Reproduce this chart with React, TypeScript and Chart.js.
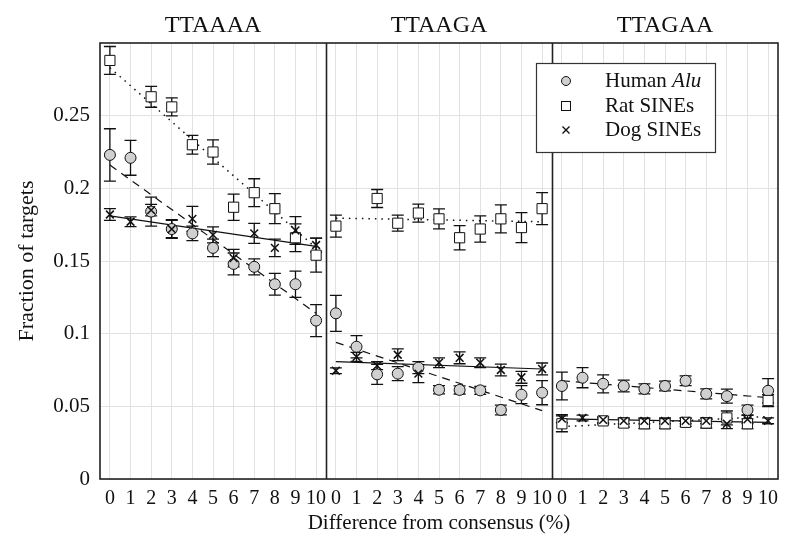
import React, { useEffect, useRef } from "react";
import { Chart, registerables } from "chart.js";

Chart.register(...registerables);

const panels = ["TTAAAA", "TTAAGA", "TTAGAA"];
const xTicks = [0, 1, 2, 3, 4, 5, 6, 7, 8, 9, 10];
const yTicks = [0, 0.05, 0.1, 0.15, 0.2, 0.25];
const seriesNames = ["Human Alu", "Rat SINEs", "Dog SINEs"];

// values per panel (11 points each, x = 0..10)
const humanValues = [
  [0.223, 0.221, 0.184, 0.172, 0.169, 0.159, 0.148, 0.146, 0.134, 0.134, 0.109],
  [0.114, 0.091, 0.072, 0.0725, 0.0766, 0.0614, 0.0613, 0.061, 0.0475, 0.058, 0.0594],
  [0.064, 0.0697, 0.0655, 0.064, 0.062, 0.064, 0.0676, 0.0586, 0.057, 0.0475, 0.0607],
];
const humanErrors = [
  [0.018, 0.012, 0.01, 0.0065, 0.005, 0.006, 0.0075, 0.0055, 0.0075, 0.009, 0.011],
  [0.0124, 0.0076, 0.0069, 0.0048, 0.0041, 0.0028, 0.0028, 0.0028, 0.0034, 0.0062, 0.0083],
  [0.0096, 0.0069, 0.0062, 0.0041, 0.0034, 0.0034, 0.0034, 0.0034, 0.0048, 0.0034, 0.0083],
];
const ratValues = [
  [0.288, null, 0.263, 0.256, 0.23, 0.225, 0.187, 0.197, 0.186, 0.166, 0.154],
  [0.174, null, 0.193, 0.176, 0.183, 0.179, 0.166, 0.172, 0.179, 0.173, 0.186],
  [0.038, null, 0.04, 0.0385, 0.038, 0.038, 0.039, 0.0385, 0.042, 0.038, 0.054],
];
const ratErrors = [
  [0.0096, 0, 0.0072, 0.0062, 0.0065, 0.0083, 0.009, 0.0096, 0.0103, 0.0096, 0.0117],
  [0.0076, 0, 0.0062, 0.0055, 0.0062, 0.0069, 0.0083, 0.009, 0.0096, 0.0103, 0.011],
  [0.0055, 0, 0.002, 0.0028, 0.0034, 0.0034, 0.0028, 0.0034, 0.0048, 0.0034, 0.0041],
];
const dogValues = [
  [0.182, 0.177, 0.185, 0.172, 0.179, 0.168, 0.152, 0.169, 0.159, 0.171, 0.161],
  [0.0745, 0.084, 0.078, 0.0855, 0.0725, 0.08, 0.0834, 0.08, 0.075, 0.07, 0.0757],
  [0.0415, 0.042, 0.0407, 0.04, 0.04, 0.04, 0.04, 0.04, 0.038, 0.041, 0.04],
];
const dogErrors = [
  [0.004, 0.0034, 0.004, 0.006, 0.0086, 0.0055, 0.006, 0.0069, 0.006, 0.0096, 0.0048],
  [0.002, 0.0031, 0.0028, 0.0041, 0.0062, 0.0034, 0.0041, 0.0034, 0.0041, 0.0041, 0.0041],
  [0.0028, 0.002, 0.002, 0.002, 0.002, 0.002, 0.002, 0.002, 0.0034, 0.0028, 0.002],
];
// linear trend lines: [value at x=0, value at x=10] per panel
const humanTrend = [[0.216, 0.114], [0.094, 0.047], [0.0676, 0.056]];
const ratTrend = [[0.283, 0.159], [0.1795, 0.177], [0.036, 0.043]];
const dogTrend = [[0.181, 0.16], [0.0807, 0.0757], [0.0414, 0.039]];

const OFF = 10.96; // panel span in x units
const PAD = 0.48;
const FONT = "'Liberation Serif', 'DejaVu Serif', 'Times New Roman', serif";

function points(vals: (number | null)[][]) {
  const out: { x: number; y: number }[] = [];
  vals.forEach((arr, k) =>
    arr.forEach((v, i) => {
      if (v !== null) out.push({ x: xTicks[i] + k * OFF, y: v });
    })
  );
  return out;
}
function trend(tr: number[][]) {
  const out: any[] = [];
  tr.forEach((t, k) => {
    out.push({ x: xTicks[0] + k * OFF, y: t[0] });
    out.push({ x: xTicks[xTicks.length - 1] + k * OFF, y: t[1] });
    if (k < tr.length - 1) out.push({ x: 10.5 + k * OFF, y: null });
  });
  return out;
}

const errorSets = [
  { vals: humanValues, errs: humanErrors },
  { vals: ratValues, errs: ratErrors },
  { vals: dogValues, errs: dogErrors },
];

const framePlugin = {
  id: "frame",
  beforeDatasetsDraw(chart: any) {
    const { ctx, chartArea: a, scales } = chart;
    const xs = scales.x, ys = scales.y;
    ctx.save();
    // error bars
    ctx.strokeStyle = "#111";
    ctx.lineWidth = 1.3;
    errorSets.forEach((s) => {
      s.vals.forEach((arr, k) =>
        arr.forEach((v, i) => {
          if (v === null) return;
          const e = s.errs[k][i];
          const px = xs.getPixelForValue(xTicks[i] + k * OFF);
          const y1 = ys.getPixelForValue(v - e);
          const y2 = ys.getPixelForValue(v + e);
          ctx.beginPath();
          ctx.moveTo(px, y1);
          ctx.lineTo(px, y2);
          ctx.moveTo(px - 6, y1);
          ctx.lineTo(px + 6, y1);
          ctx.moveTo(px - 6, y2);
          ctx.lineTo(px + 6, y2);
          ctx.stroke();
        })
      );
    });
    // frame and separators
    ctx.strokeStyle = "#222";
    ctx.lineWidth = 1.6;
    ctx.strokeRect(a.left, a.top, a.right - a.left, a.bottom - a.top);
    for (let k = 1; k < panels.length; k++) {
      const px = Math.round(xs.getPixelForValue(k * OFF - PAD)) + 0.5;
      ctx.beginPath();
      ctx.moveTo(px, a.top);
      ctx.lineTo(px, a.bottom);
      ctx.stroke();
    }
    ctx.restore();
  },
  afterDraw(chart: any) {
    const { ctx, chartArea: a, scales } = chart;
    const xs = scales.x;
    ctx.save();
    ctx.fillStyle = "#111";
    ctx.font = `24px ${FONT}`;
    ctx.textAlign = "center";
    ctx.textBaseline = "middle";
    panels.forEach((p, k) => {
      const cx = xs.getPixelForValue(5 + k * OFF);
      ctx.fillText(p, cx, a.top - 17);
    });
    // legend
    const lx = a.right - 242, ly = a.top + 20, lw = 179, lh = 89;
    ctx.fillStyle = "#fff";
    ctx.fillRect(lx, ly, lw, lh);
    ctx.strokeStyle = "#333";
    ctx.lineWidth = 1.2;
    ctx.strokeRect(lx + 0.5, ly + 0.5, lw, lh);
    const mx = lx + 30;
    const rows = [ly + 18, ly + 43, ly + 67];
    // circle
    ctx.beginPath();
    ctx.arc(mx, rows[0], 4.5, 0, Math.PI * 2);
    ctx.fillStyle = "#d0d0d0";
    ctx.fill();
    ctx.strokeStyle = "#111";
    ctx.lineWidth = 1;
    ctx.stroke();
    // square
    ctx.fillStyle = "#fff";
    ctx.fillRect(mx - 4.5, rows[1] - 4.5, 9, 9);
    ctx.strokeRect(mx - 4.5, rows[1] - 4.5, 9, 9);
    // cross
    ctx.lineWidth = 1.4;
    ctx.beginPath();
    ctx.moveTo(mx - 3.5, rows[2] - 3.5);
    ctx.lineTo(mx + 3.5, rows[2] + 3.5);
    ctx.moveTo(mx + 3.5, rows[2] - 3.5);
    ctx.lineTo(mx - 3.5, rows[2] + 3.5);
    ctx.stroke();
    ctx.fillStyle = "#111";
    ctx.textAlign = "left";
    const tx = lx + 69;
    ctx.font = `21px ${FONT}`;
    const human = seriesNames[0].split(" ");
    ctx.fillText(human[0] + " ", tx, rows[0]);
    const w = ctx.measureText(human[0] + " ").width;
    ctx.font = `italic 21px ${FONT}`;
    ctx.fillText(human[1], tx + w, rows[0]);
    ctx.font = `21px ${FONT}`;
    ctx.fillText(seriesNames[1], tx, rows[1]);
    ctx.fillText(seriesNames[2], tx, rows[2]);
    ctx.restore();
  },
};

export default function App() {
  const ref = useRef<HTMLCanvasElement>(null);
  useEffect(() => {
    if (!ref.current) return;
    const chart = new Chart(ref.current, {
      type: "scatter",
      data: {
        datasets: [
          {
            label: seriesNames[2],
            data: points(dogValues),
            pointStyle: "crossRot",
            pointRadius: 5.5,
            borderColor: "#111",
            backgroundColor: "#111",
            borderWidth: 1.5,
          } as any,
          {
            label: seriesNames[1],
            data: points(ratValues),
            pointStyle: "rect",
            pointRadius: 7.2,
            borderColor: "#111",
            backgroundColor: "#fff",
            borderWidth: 1,
          },
          {
            label: seriesNames[0],
            data: points(humanValues),
            pointStyle: "circle",
            pointRadius: 5.5,
            borderColor: "#111",
            backgroundColor: "#d0d0d0",
            borderWidth: 1,
          },
          {
            type: "line",
            label: "human fit",
            data: trend(humanTrend),
            borderColor: "#111",
            borderWidth: 1.2,
            borderDash: [8, 6],
            pointRadius: 0,
            spanGaps: false,
          } as any,
          {
            type: "line",
            label: "rat fit",
            data: trend(ratTrend),
            borderColor: "#111",
            borderWidth: 1.5,
            borderDash: [1.5, 5],
            pointRadius: 0,
            spanGaps: false,
          } as any,
          {
            type: "line",
            label: "dog fit",
            data: trend(dogTrend),
            borderColor: "#111",
            borderWidth: 1.2,
            pointRadius: 0,
            spanGaps: false,
          } as any,
        ],
      },
      options: {
        animation: false,
        responsive: false,
        layout: { padding: { top: 43, right: 22, left: 0, bottom: 0 } },
        plugins: { legend: { display: false }, tooltip: { enabled: false } },
        scales: {
          x: {
            type: "linear",
            min: -PAD,
            max: (panels.length - 1) * OFF + 10 + PAD,
            afterBuildTicks: (axis: any) => {
              const t: any[] = [];
              panels.forEach((_, k) => xTicks.forEach((v) => t.push({ value: v + k * OFF })));
              axis.ticks = t;
            },
            afterFit: (axis: any) => {
              axis.height = 71;
            },
            grid: { color: "#e2e2e2", lineWidth: 1, drawTicks: false },
            border: { display: false },
            ticks: {
              autoSkip: false,
              maxRotation: 0,
              padding: 8,
              color: "#111",
              font: { family: FONT, size: 20 },
              callback: (v: any) => {
                const k = Math.floor((Number(v) + 0.5) / OFF);
                return String(Math.round(Number(v) - k * OFF));
              },
            },
            title: {
              display: true,
              text: "Difference from consensus (%)",
              color: "#111",
              font: { family: FONT, size: 21 },
              padding: { top: 0, bottom: 14 },
            },
          },
          y: {
            min: 0,
            max: 0.3,
            afterBuildTicks: (axis: any) => {
              axis.ticks = yTicks.map((v) => ({ value: v }));
            },
            afterFit: (axis: any) => {
              axis.width = 100;
            },
            grid: { color: "#e2e2e2", lineWidth: 1, drawTicks: false },
            border: { display: false },
            ticks: {
              padding: 10,
              color: "#111",
              font: { family: FONT, size: 21 },
              callback: (v: any) => String(parseFloat(Number(v).toFixed(2))),
            },
            title: {
              display: true,
              text: "Fraction of targets",
              color: "#111",
              font: { family: FONT, size: 22 },
              padding: { top: 14, bottom: 0 },
            },
          },
        },
      },
      plugins: [framePlugin],
    } as any);
    return () => chart.destroy();
  }, []);
  return (
    <div style={{ position: "absolute", left: 0, top: 0, width: 800, height: 550, background: "#fff" }}>
      <canvas ref={ref} width={800} height={550} />
    </div>
  );
}
